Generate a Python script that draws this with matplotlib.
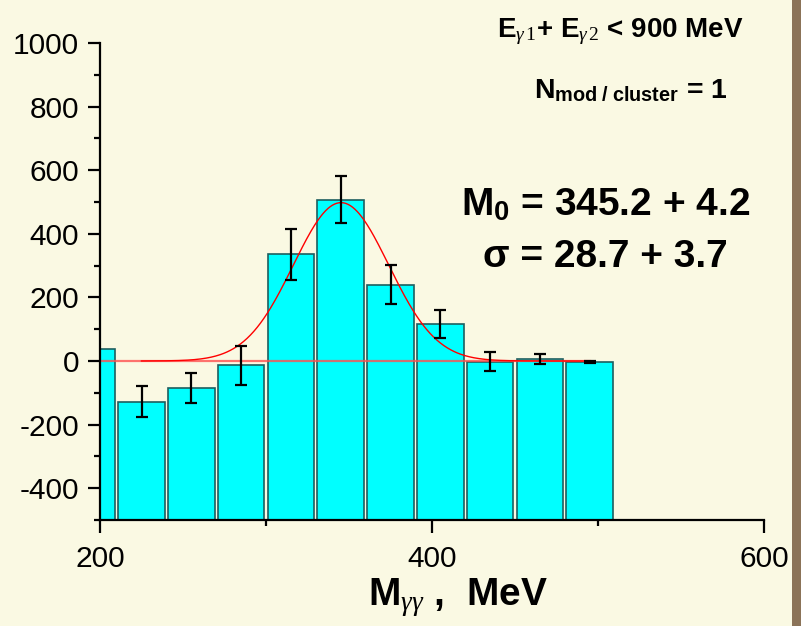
import numpy as np
import matplotlib
matplotlib.use("Agg")
import matplotlib.pyplot as plt
from matplotlib.ticker import MultipleLocator
from matplotlib.patches import Rectangle

plt.rcParams['font.family'] = ['Liberation Sans', 'DejaVu Sans']
plt.rcParams['axes.unicode_minus'] = False
plt.rcParams['mathtext.fontset'] = 'custom'
plt.rcParams['mathtext.rm'] = 'Liberation Serif'
plt.rcParams['mathtext.it'] = 'Liberation Serif:italic'
plt.rcParams['mathtext.bf'] = 'Liberation Sans:bold'

# Background-subtracted invariant mass histogram (30 MeV bins)
bin_centers = [195, 225, 255, 285, 315, 345, 375, 405, 435, 465, 495]
counts = [38, -128, -86, -13, 336, 507, 240, 116, -2, 5, -3]
errors = [0, 49, 47, 61, 80, 74, 62, 44, 29, 16, 3]

# Gaussian fit parameters
fit_mean = 345.2
fit_sigma = 28.7
fit_amp = 498
fit_range = (225, 495)

y_min, y_max = -500, 1000

bg = '#FAF9E3'
fig = plt.figure(figsize=(8.01, 6.26), dpi=100, facecolor=bg)
ax = fig.add_axes([100/801, 106/626, 664/801, 477/626])
ax.set_facecolor(bg)

# bars rise from the bottom of the frame
heights = [c - y_min for c in counts]
ax.bar(bin_centers, heights, bottom=y_min, width=28, color='#00FFFF',
       edgecolor='#1d5f5f', linewidth=1.2, zorder=2)
err_x = [x for x, e in zip(bin_centers, errors) if e > 0]
err_y = [c for c, e in zip(counts, errors) if e > 0]
err_e = [e for e in errors if e > 0]
ax.errorbar(err_x, err_y, yerr=err_e, fmt='none', ecolor='black',
            elinewidth=1.6, capsize=4.5, capthick=1.6, zorder=4)

ax.plot([200, 495], [0, 0], color='#ff5050', lw=1.6, alpha=0.8, zorder=3)
xf = np.linspace(fit_range[0], fit_range[1], 400)
yf = fit_amp * np.exp(-0.5 * ((xf - fit_mean) / fit_sigma) ** 2)
ax.plot(xf, yf, color='red', lw=1.0, zorder=3)

ax.set_xlim(200, 600)
ax.set_ylim(y_min, y_max)
ax.xaxis.set_major_locator(MultipleLocator(200))
ax.xaxis.set_minor_locator(MultipleLocator(100))
ax.yaxis.set_major_locator(MultipleLocator(200))
ax.yaxis.set_minor_locator(MultipleLocator(100))
for s in ['top', 'right']:
    ax.spines[s].set_visible(False)
for s in ['left', 'bottom']:
    ax.spines[s].set_linewidth(1.6)
    ax.spines[s].set_zorder(5)
ax.tick_params(axis='both', which='major', direction='out', length=9, width=1.6,
               labelsize=21.5, pad=6)
ax.tick_params(axis='both', which='minor', direction='out', length=4.5, width=1.6)
ax.tick_params(axis='x', which='major', pad=9)

def ftext(x, y, s, size):
    fig.text(x/801, 1 - y/626, s, fontsize=size, fontweight='bold',
             ha='center', va='baseline')

# axis title and annotations (positions in pixels, y = baseline)
ftext(458, 605, r'M$_{\gamma\gamma}$ ,  MeV', 28)
ftext(620, 37, r'E$_{\gamma\,1}$+ E$_{\gamma\,2}$ < 900 MeV', 20)
ftext(631, 98, r'N$_{\mathbf{mod\ /\ cluster}}$ = 1', 20.5)
ftext(606, 215, r'M$_{\mathbf{0}}$ = 345.2 + 4.2', 28)
ftext(605, 267, r'σ = 28.7 + 3.7', 28)

fig.patches.append(Rectangle((792/801, 0), 9/801, 1, transform=fig.transFigure,
                             facecolor='#8B7358', edgecolor='none'))

fig.savefig('out.png', dpi=100, facecolor=bg)
